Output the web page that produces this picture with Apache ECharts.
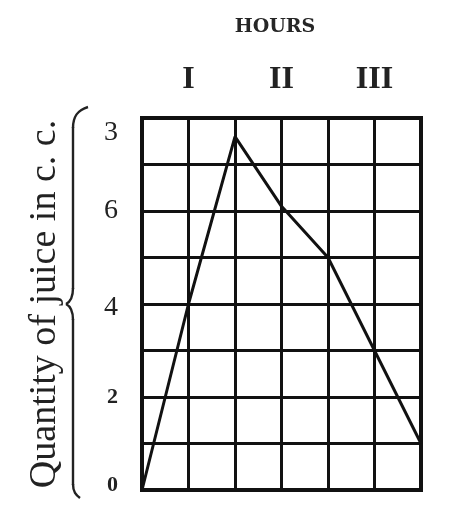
<!DOCTYPE html>
<html>
<head>
<meta charset="utf-8">
<script src="https://cdn.jsdelivr.net/npm/echarts@6/dist/echarts.min.js"></script>
<style>html,body{margin:0;padding:0;background:#fff}#c{width:450px;height:510px}</style>
</head>
<body>
<div id="c"></div>
<script>
// Data
var hours = [0, 0.5, 1.0, 1.5, 2.0, 2.5, 3.0];
var juice = [0, 4.0, 7.6, 6.1, 5.0, 3.0, 1.0];
var xTickValues = [0.5, 1.5, 2.5];
var xTickTexts = ['I', 'II', 'III'];
var yTickValues = [0, 2, 4, 6, 8];
var yTickTexts = ['0', '2', '4', '6', '3'];
var yTickStyles = ['sm0', 'sm', 'd4', 'big', 'd3'];
var xTitle = 'HOURS';
var yTitle = 'Quantity of juice in c. c.';

var INK = '#111';
var SERIF = '"Liberation Serif", "DejaVu Serif", serif';
var braceStyle = {fill: 'none', stroke: '#222', lineWidth: 2.4};

var chart = echarts.init(document.getElementById('c'), null, {renderer: 'canvas'});
chart.setOption({
  backgroundColor: '#ffffff',
  animation: false,
  grid: {left: 142, right: 29, top: 118, bottom: 20, show: true, borderColor: INK, borderWidth: 4, backgroundColor: 'transparent'},
  xAxis: [{
    type: 'value', min: 0, max: 3, interval: 0.5, position: 'bottom',
    axisLine: {show: false}, axisTick: {show: false}, axisLabel: {show: false},
    splitLine: {show: true, lineStyle: {color: INK, width: 3}}
  }, {
    type: 'value', min: 0, max: 3, interval: 0.5, position: 'top',
    axisLine: {show: false}, axisTick: {show: false},
    splitLine: {show: false},
    axisLabel: {
      show: true, margin: 22, fontFamily: SERIF, fontWeight: 'bold', fontSize: 32, color: '#222',
      formatter: function (v) {
        for (var i = 0; i < xTickValues.length; i++) if (Math.abs(xTickValues[i] - v) < 1e-6) return xTickTexts[i];
        return '';
      }
    }
  }],
  yAxis: {
    type: 'value', min: 0, max: 8, interval: 1,
    name: yTitle, nameLocation: 'middle', nameGap: 78, nameRotate: 90,
    nameTextStyle: {fontFamily: SERIF, fontSize: 38, color: '#222'},
    axisLine: {show: false}, axisTick: {show: false},
    splitLine: {show: true, lineStyle: {color: INK, width: 3}},
    axisLabel: {
      show: true, margin: 24, color: '#222', fontFamily: SERIF,
      formatter: function (v) {
        for (var i = 0; i < yTickValues.length; i++) if (Math.abs(yTickValues[i] - v) < 1e-6) return '{' + yTickStyles[i] + '|' + yTickTexts[i] + '}';
        return '';
      },
      rich: {
        big: {fontFamily: SERIF, fontSize: 28, color: '#222'},
        d4: {fontFamily: SERIF, fontSize: 28, color: '#222', padding: [8, 0, 0, 0]},
        d3: {fontFamily: SERIF, fontSize: 28, color: '#222', padding: [30, 0, 0, 0]},
        sm: {fontFamily: SERIF, fontSize: 22, fontWeight: 'bold', color: '#222'},
        sm0: {fontFamily: SERIF, fontSize: 22, fontWeight: 'bold', color: '#222', padding: [0, 0, 10, 0]}
      }
    }
  },
  graphic: [{
    type: 'text', x: 275, y: 27,
    style: {text: xTitle, fontFamily: '"DejaVu Serif", serif', fontWeight: 'bold', fontSize: 19, fill: '#262626', align: 'center', verticalAlign: 'middle'}
  },
  {type: 'bezierCurve', shape: {x1: 88, y1: 107, cpx1: 78, cpy1: 110, cpx2: 73, cpy2: 116, x2: 73, y2: 128}, style: braceStyle},
  {type: 'line', shape: {x1: 73, y1: 127, x2: 73, y2: 289}, style: braceStyle},
  {type: 'bezierCurve', shape: {x1: 73, y1: 288, cpx1: 73, cpy1: 298, cpx2: 70, cpy2: 302, x2: 66, y2: 304}, style: braceStyle},
  {type: 'bezierCurve', shape: {x1: 66, y1: 304, cpx1: 70, cpy1: 306, cpx2: 73, cpy2: 310, x2: 73, y2: 320}, style: braceStyle},
  {type: 'line', shape: {x1: 73, y1: 319, x2: 73, y2: 485}, style: braceStyle},
  {type: 'bezierCurve', shape: {x1: 73, y1: 484, cpx1: 73, cpy1: 492, cpx2: 76, cpy2: 495, x2: 80, y2: 498}, style: braceStyle}
  ],
  series: [{
    type: 'line', xAxisIndex: 0,
    data: hours.map(function (h, i) { return [h, juice[i]]; }),
    symbol: 'none', lineStyle: {color: INK, width: 3}, z: 5
  }]
});
</script>
</body>
</html>
